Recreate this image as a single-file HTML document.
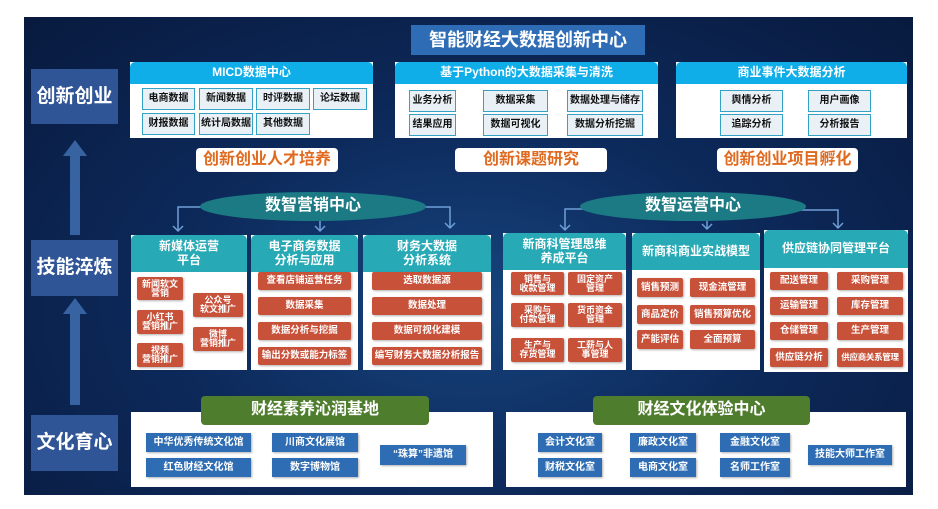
<!DOCTYPE html>
<html><head><meta charset="utf-8"><style>
*{margin:0;padding:0;box-sizing:border-box}
body{width:938px;height:509px;background:#fff;position:relative;overflow:hidden;font-family:"Liberation Sans","Noto Sans CJK SC",sans-serif;font-weight:bold}
.a{position:absolute;display:flex;align-items:center;justify-content:center;text-align:center;line-height:1.15}
#bg{position:absolute;left:24px;top:17px;width:889px;height:478px;background:radial-gradient(ellipse at 50% 60%,#16457e 0%,#0d2a5c 45%,#081a3e 100%)}
.lab{background:#2f5596;color:#fff;font-size:19px}
.wp{background:#fff}
.cy{background:#10aee9;color:#fff;font-size:12px;border-radius:5px 5px 0 0}
.c{background:#e9f1f7;border:1.5px solid #33a2c4;color:#111;font-size:10px}
.sub{background:#fff;color:#e06a1f;font-size:16px;border-radius:4px}
.ell{background:#1b7a83;color:#fff;font-size:16px;border-radius:50%}
.th{background:#27a9b6;color:#fff;font-size:12px;border-radius:5px 5px 0 0}
.r{background:#c8513a;color:#fff;font-size:9.5px;border-radius:2px;box-shadow:1px 1px 2px rgba(0,0,0,.3);line-height:1.05}
.s{font-size:9px;line-height:1.0}
.g{background:#4f7d2e;color:#fff;font-size:16px;border-radius:4px}
.b{background:#2e6db3;color:#fff;font-size:10px;box-shadow:1px 1px 2px rgba(0,0,0,.3)}
</style></head><body>
<div id="bg"></div>
<div class="a" style="left:411px;top:25px;width:234px;height:30px;background:#2e6db5;color:#fff;font-size:18px">智能财经大数据创新中心</div>
<div class="a lab" style="left:31px;top:69px;width:87px;height:55px">创新创业</div>
<div class="a lab" style="left:31px;top:240px;width:87px;height:56px">技能淬炼</div>
<div class="a lab" style="left:31px;top:415px;width:87px;height:56px">文化育心</div>
<svg style="position:absolute;left:60px;top:130px" width="30" height="290"><g fill="#3f6fb0" opacity=".85"><polygon points="15,10 27,26 20,26 20,105 10,105 10,26 3,26"/><polygon points="15,168 27,184 20,184 20,275 10,275 10,184 3,184"/></g></svg>

<div class="a wp" style="left:130px;top:62px;width:243px;height:76px"></div>
<div class="a cy" style="left:130px;top:62px;width:243px;height:22px">MICD数据中心</div>
<div class="a c" style="left:142px;top:88px;width:53px;height:22px">电商数据</div>
<div class="a c" style="left:199px;top:88px;width:54px;height:22px">新闻数据</div>
<div class="a c" style="left:256px;top:88px;width:54px;height:22px">时评数据</div>
<div class="a c" style="left:313px;top:88px;width:54px;height:22px">论坛数据</div>
<div class="a c" style="left:142px;top:113px;width:53px;height:22px">财报数据</div>
<div class="a c" style="left:199px;top:113px;width:54px;height:22px">统计局数据</div>
<div class="a c" style="left:256px;top:113px;width:54px;height:22px">其他数据</div>

<div class="a wp" style="left:395px;top:62px;width:263px;height:76px"></div>
<div class="a cy" style="left:395px;top:62px;width:263px;height:22px">基于Python的大数据采集与清洗</div>
<div class="a c" style="left:409px;top:90px;width:47px;height:22px">业务分析</div>
<div class="a c" style="left:483px;top:90px;width:65px;height:22px">数据采集</div>
<div class="a c" style="left:567px;top:90px;width:76px;height:22px">数据处理与储存</div>
<div class="a c" style="left:409px;top:114px;width:47px;height:22px">结果应用</div>
<div class="a c" style="left:483px;top:114px;width:65px;height:22px">数据可视化</div>
<div class="a c" style="left:567px;top:114px;width:76px;height:22px">数据分析挖掘</div>

<div class="a wp" style="left:676px;top:62px;width:231px;height:76px"></div>
<div class="a cy" style="left:676px;top:62px;width:231px;height:22px">商业事件大数据分析</div>
<div class="a c" style="left:720px;top:90px;width:63px;height:22px">舆情分析</div>
<div class="a c" style="left:808px;top:90px;width:63px;height:22px">用户画像</div>
<div class="a c" style="left:720px;top:114px;width:63px;height:22px">追踪分析</div>
<div class="a c" style="left:808px;top:114px;width:63px;height:22px">分析报告</div>

<div class="a sub" style="left:196px;top:148px;width:142px;height:24px">创新创业人才培养</div>
<div class="a sub" style="left:455px;top:148px;width:152px;height:24px">创新课题研究</div>
<div class="a sub" style="left:717px;top:148px;width:141px;height:24px">创新创业项目孵化</div>

<svg style="position:absolute;left:0;top:0" width="938" height="509"><g fill="none" stroke="#6f9fd8" stroke-width="1.5">
<path d="M205 207 H178 V231 M173 226 L178 231 L183 226"/><path d="M320 220 V231 M315 226 L320 231 L325 226"/><path d="M420 207 H450 V228 M445 223 L450 228 L455 223"/>
<path d="M585 209 H565 V230 M560 225 L565 230 L570 225"/><path d="M707 220 V229 M702 224 L707 229 L712 224"/><path d="M800 210 H838 V228 M833 223 L838 228 L843 223"/></g></svg>
<div class="a ell" style="left:200px;top:192px;width:226px;height:29px">数智营销中心</div>
<div class="a ell" style="left:580px;top:192px;width:226px;height:29px">数智运营中心</div>

<div class="a wp" style="left:131px;top:235px;width:116px;height:135px"></div>
<div class="a th" style="left:131px;top:235px;width:116px;height:37px">新媒体运营<br>平台</div>
<div class="a r s" style="left:137px;top:277px;width:46px;height:23px">新闻软文<br>营销</div>
<div class="a r s" style="left:137px;top:310px;width:46px;height:24px">小红书<br>营销推广</div>
<div class="a r s" style="left:137px;top:343px;width:46px;height:24px">视频<br>营销推广</div>
<div class="a r s" style="left:193px;top:293px;width:50px;height:24px">公众号<br>软文推广</div>
<div class="a r s" style="left:193px;top:327px;width:50px;height:24px">微博<br>营销推广</div>

<div class="a wp" style="left:251px;top:235px;width:107px;height:135px"></div>
<div class="a th" style="left:251px;top:235px;width:107px;height:37px">电子商务数据<br>分析与应用</div>
<div class="a r" style="left:258px;top:272px;width:93px;height:18px">查看店铺运营任务</div>
<div class="a r" style="left:258px;top:297px;width:93px;height:18px">数据采集</div>
<div class="a r" style="left:258px;top:322px;width:93px;height:18px">数据分析与挖掘</div>
<div class="a r" style="left:258px;top:347px;width:93px;height:18px">输出分数或能力标签</div>

<div class="a wp" style="left:363px;top:235px;width:128px;height:135px"></div>
<div class="a th" style="left:363px;top:235px;width:128px;height:37px">财务大数据<br>分析系统</div>
<div class="a r" style="left:372px;top:272px;width:110px;height:18px">选取数据源</div>
<div class="a r" style="left:372px;top:297px;width:110px;height:18px">数据处理</div>
<div class="a r" style="left:372px;top:322px;width:110px;height:18px">数据可视化建模</div>
<div class="a r" style="left:372px;top:347px;width:110px;height:18px">编写财务大数据分析报告</div>

<div class="a wp" style="left:503px;top:233px;width:123px;height:137px"></div>
<div class="a th" style="left:503px;top:233px;width:123px;height:37px">新商科管理思维<br>养成平台</div>
<div class="a r s" style="left:511px;top:272px;width:53px;height:23px">销售与<br>收款管理</div>
<div class="a r s" style="left:568px;top:272px;width:54px;height:23px">固定资产<br>管理</div>
<div class="a r s" style="left:511px;top:303px;width:53px;height:24px">采购与<br>付款管理</div>
<div class="a r s" style="left:568px;top:303px;width:54px;height:24px">货币资金<br>管理</div>
<div class="a r s" style="left:511px;top:338px;width:53px;height:24px">生产与<br>存货管理</div>
<div class="a r s" style="left:568px;top:338px;width:54px;height:24px">工薪与人<br>事管理</div>

<div class="a wp" style="left:632px;top:233px;width:128px;height:137px"></div>
<div class="a th" style="left:632px;top:233px;width:128px;height:37px">新商科商业实战模型</div>
<div class="a r" style="left:637px;top:278px;width:46px;height:19px">销售预测</div>
<div class="a r" style="left:690px;top:278px;width:65px;height:19px">现金流管理</div>
<div class="a r" style="left:637px;top:305px;width:46px;height:19px">商品定价</div>
<div class="a r" style="left:690px;top:305px;width:65px;height:19px">销售预算优化</div>
<div class="a r" style="left:637px;top:330px;width:46px;height:19px">产能评估</div>
<div class="a r" style="left:690px;top:330px;width:65px;height:19px">全面预算</div>

<div class="a wp" style="left:764px;top:230px;width:144px;height:142px"></div>
<div class="a th" style="left:764px;top:230px;width:144px;height:38px">供应链协同管理平台</div>
<div class="a r" style="left:770px;top:272px;width:58px;height:18px">配送管理</div>
<div class="a r" style="left:837px;top:272px;width:66px;height:18px">采购管理</div>
<div class="a r" style="left:770px;top:297px;width:58px;height:18px">运输管理</div>
<div class="a r" style="left:837px;top:297px;width:66px;height:18px">库存管理</div>
<div class="a r" style="left:770px;top:322px;width:58px;height:18px">仓储管理</div>
<div class="a r" style="left:837px;top:322px;width:66px;height:18px">生产管理</div>
<div class="a r" style="left:770px;top:348px;width:58px;height:19px">供应链分析</div>
<div class="a r" style="left:837px;top:348px;width:66px;height:19px;font-size:8.5px;letter-spacing:-0.3px">供应商关系管理</div>

<div class="a wp" style="left:131px;top:412px;width:362px;height:75px"></div>
<div class="a g" style="left:201px;top:396px;width:228px;height:29px">财经素养沁润基地</div>
<div class="a b" style="left:146px;top:433px;width:105px;height:19px">中华优秀传统文化馆</div>
<div class="a b" style="left:146px;top:458px;width:105px;height:19px">红色财经文化馆</div>
<div class="a b" style="left:272px;top:433px;width:86px;height:19px">川商文化展馆</div>
<div class="a b" style="left:272px;top:458px;width:86px;height:19px">数字博物馆</div>
<div class="a b" style="left:380px;top:445px;width:86px;height:20px">“珠算”非遗馆</div>

<div class="a wp" style="left:506px;top:412px;width:400px;height:75px"></div>
<div class="a g" style="left:593px;top:396px;width:217px;height:29px">财经文化体验中心</div>
<div class="a b" style="left:538px;top:433px;width:64px;height:19px">会计文化室</div>
<div class="a b" style="left:538px;top:458px;width:64px;height:19px">财税文化室</div>
<div class="a b" style="left:630px;top:433px;width:66px;height:19px">廉政文化室</div>
<div class="a b" style="left:630px;top:458px;width:66px;height:19px">电商文化室</div>
<div class="a b" style="left:720px;top:433px;width:70px;height:19px">金融文化室</div>
<div class="a b" style="left:720px;top:458px;width:70px;height:19px">名师工作室</div>
<div class="a b" style="left:808px;top:445px;width:84px;height:20px">技能大师工作室</div>
</body></html>
